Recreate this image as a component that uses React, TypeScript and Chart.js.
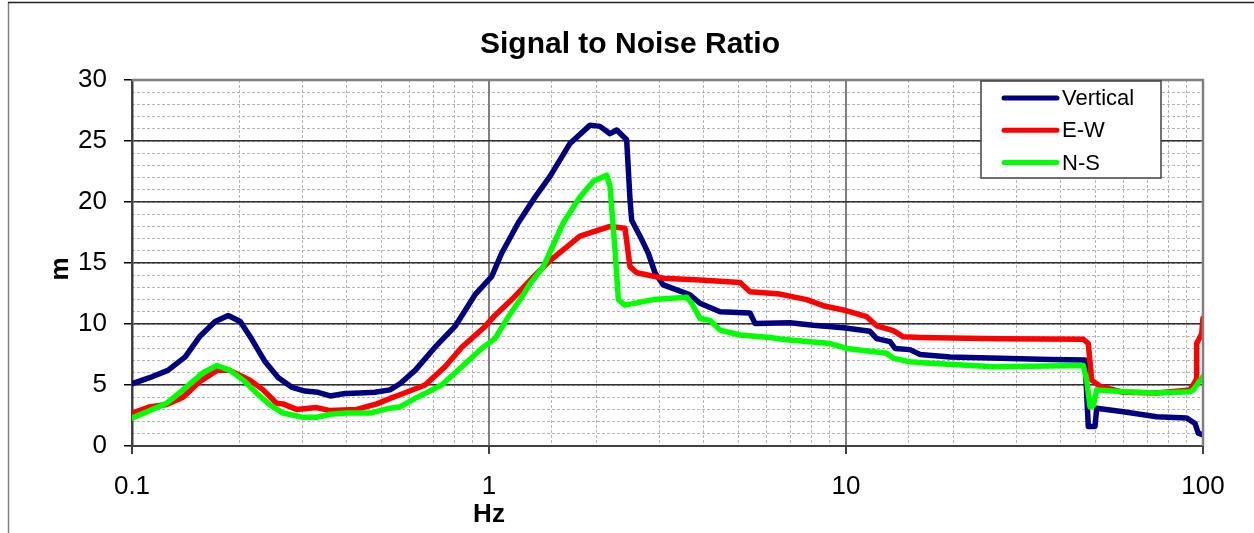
import React, { useEffect, useRef } from 'react';
import { Chart, registerables } from 'chart.js';

Chart.register(...registerables);

// ---------- data ----------
const chartTitle = 'Signal to Noise Ratio';
const xTitle = 'Hz';
const yTitle = 'm';
const seriesNames = ['Vertical', 'E-W', 'N-S'];
const seriesColors = ['#000080', '#FF0000', '#00FF00'];

const xTickValues = [0.1, 1, 10, 100];
const yMin = 0;
const yMax = 30;
const yMajorStep = 5;
const yMinorStep = 1;

const verticalHz = [0.1, 0.112, 0.126, 0.141, 0.155, 0.171, 0.186, 0.201, 0.217, 0.236, 0.257, 0.281, 0.305, 0.332, 0.359, 0.395, 0.435, 0.479, 0.528, 0.563, 0.621, 0.706, 0.803, 0.914, 1.018, 1.085, 1.208, 1.346, 1.482, 1.686, 1.919, 2.046, 2.182, 2.279, 2.43, 2.483, 2.51, 2.649, 2.794, 2.917, 3.077, 3.356, 3.656, 3.899, 4.438, 5.384, 5.561, 6.969, 8.097, 9.826, 11.67, 12.19, 13.28, 13.72, 15.11, 16.12, 19.56, 27.01, 37.27, 46.72, 47.72, 49.83, 50.38, 59.81, 74.19, 90.03, 94.97, 96.99, 100];
const verticalSnr = [5.1, 5.6, 6.2, 7.3, 9.0, 10.2, 10.7, 10.2, 8.7, 6.9, 5.6, 4.8, 4.5, 4.4, 4.1, 4.3, 4.35, 4.4, 4.6, 5.1, 6.2, 8.1, 9.8, 12.4, 13.9, 15.8, 18.3, 20.4, 22.1, 24.8, 26.3, 26.2, 25.6, 25.9, 25.1, 20.2, 18.5, 17.2, 15.8, 14.2, 13.2, 12.8, 12.4, 11.7, 11.0, 10.9, 10.05, 10.1, 9.9, 9.7, 9.4, 8.8, 8.55, 8.0, 7.9, 7.5, 7.3, 7.2, 7.1, 7.05, 1.6, 1.6, 3.1, 2.8, 2.4, 2.3, 1.85, 1.05, 0.9];

const ewHz = [0.1, 0.112, 0.125, 0.139, 0.155, 0.173, 0.188, 0.214, 0.233, 0.254, 0.265, 0.289, 0.329, 0.359, 0.426, 0.485, 0.528, 0.563, 0.662, 0.753, 0.839, 0.975, 1.039, 1.158, 1.346, 1.482, 1.798, 2.182, 2.404, 2.483, 2.593, 3.077, 3.899, 5.048, 5.384, 6.533, 7.762, 8.638, 9.826, 11.43, 12.19, 13.57, 14.47, 16.12, 27.01, 46.2, 47.72, 48.77, 51.46, 59.81, 74.19, 91.96, 95.59, 96.0, 99.2, 100];
const ewSnr = [2.7, 3.2, 3.4, 4.0, 5.3, 6.2, 6.2, 5.4, 4.6, 3.5, 3.45, 3.0, 3.15, 2.9, 3.0, 3.45, 3.9, 4.2, 5.0, 6.5, 8.1, 9.8, 10.7, 12.0, 14.0, 15.2, 17.2, 18.0, 17.85, 14.7, 14.2, 13.75, 13.6, 13.4, 12.65, 12.45, 12.0, 11.5, 11.15, 10.6, 9.85, 9.45, 8.95, 8.9, 8.8, 8.75, 8.4, 5.4, 4.9, 4.4, 4.35, 4.6, 5.4, 8.4, 9.2, 10.5];

const nsHz = [0.1, 0.11, 0.125, 0.139, 0.158, 0.173, 0.188, 0.205, 0.224, 0.244, 0.265, 0.302, 0.329, 0.359, 0.399, 0.464, 0.528, 0.563, 0.621, 0.737, 0.839, 0.954, 1.039, 1.133, 1.235, 1.303, 1.42, 1.615, 1.798, 1.96, 2.136, 2.182, 2.254, 2.303, 2.404, 2.885, 3.579, 3.697, 3.899, 4.159, 4.438, 5.048, 6.124, 6.823, 9.021, 10.05, 13.0, 13.57, 15.11, 16.83, 25.86, 46.2, 47.23, 48.25, 49.29, 50.38, 59.81, 74.19, 91.96, 93.93, 100];
const nsSnr = [2.3, 2.8, 3.5, 4.6, 6.0, 6.6, 6.2, 5.4, 4.3, 3.35, 2.7, 2.35, 2.35, 2.6, 2.7, 2.7, 3.1, 3.2, 3.9, 5.0, 6.5, 8.0, 8.8, 10.6, 12.2, 13.3, 14.7, 18.3, 20.4, 21.7, 22.2, 21.3, 16.1, 12.0, 11.55, 12.0, 12.2, 11.7, 10.45, 10.3, 9.5, 9.1, 8.9, 8.7, 8.4, 8.0, 7.6, 7.2, 6.9, 6.8, 6.5, 6.6, 5.4, 3.2, 3.3, 4.6, 4.45, 4.35, 4.45, 4.6, 5.7];

// ---------- helpers ----------
const FONT = '"Liberation Sans", Arial, sans-serif';
const toPoints = (xs: number[], ys: number[]) => xs.map((x, i) => ({ x, y: ys[i] }));

const decorPlugin = {
  id: 'decor',
  beforeDraw(chart: any) {
    const ctx = chart.ctx;
    ctx.save();
    ctx.fillStyle = '#ffffff';
    ctx.fillRect(0, 0, chart.width, chart.height);
    ctx.lineWidth = 1.5;
    ctx.strokeStyle = '#808080';
    ctx.beginPath();
    ctx.moveTo(8.5, chart.height);
    ctx.lineTo(8.5, 2.5);
    ctx.stroke();
    ctx.strokeStyle = '#202020';
    ctx.beginPath();
    ctx.moveTo(8, 2.5);
    ctx.lineTo(chart.width, 2.5);
    ctx.stroke();
    ctx.restore();
  },
  afterDraw(chart: any) {
    const ctx = chart.ctx;
    const a = chart.chartArea;
    ctx.save();
    // plot frame top / right
    ctx.strokeStyle = '#808080';
    ctx.lineWidth = 2.5;
    ctx.beginPath();
    ctx.moveTo(a.left, a.top);
    ctx.lineTo(a.right, a.top);
    ctx.lineTo(a.right, a.bottom);
    ctx.stroke();

    // titles
    ctx.fillStyle = '#000';
    ctx.textAlign = 'center';
    ctx.textBaseline = 'middle';
    ctx.font = `bold 30px ${FONT}`;
    ctx.fillText(chartTitle, 630, 45);
    ctx.font = `bold 26px ${FONT}`;
    ctx.fillText(xTitle, 489, 515);
    ctx.save();
    ctx.translate(61, (a.top + a.bottom) / 2 + 6);
    ctx.rotate(-Math.PI / 2);
    ctx.fillText(yTitle, 0, 0);
    ctx.restore();

    // legend
    const bx = a.right - 222;
    const by = a.top + 1;
    const bw = 180;
    const bh = 97;
    ctx.fillStyle = '#fff';
    ctx.fillRect(bx, by, bw, bh);
    ctx.strokeStyle = '#404040';
    ctx.lineWidth = 1.5;
    ctx.strokeRect(bx, by, bw, bh);
    ctx.font = `22px ${FONT}`;
    ctx.textAlign = 'left';
    ctx.textBaseline = 'middle';
    seriesNames.forEach((name, i) => {
      const cy = by + 17 + i * 32.3;
      ctx.strokeStyle = seriesColors[i];
      ctx.lineWidth = 5;
      ctx.lineCap = 'round';
      ctx.beginPath();
      ctx.moveTo(bx + 23, cy);
      ctx.lineTo(bx + 76, cy);
      ctx.stroke();
      ctx.fillStyle = '#000';
      ctx.fillText(name, bx + 81, cy + 1);
    });
    ctx.restore();
  },
};

const seriesData = [
  toPoints(verticalHz, verticalSnr),
  toPoints(ewHz, ewSnr),
  toPoints(nsHz, nsSnr),
];

export default function App() {
  const ref = useRef<HTMLCanvasElement>(null);

  useEffect(() => {
    const canvas = ref.current;
    if (!canvas) return;
    const chart = new Chart(canvas, {
      type: 'line',
      data: {
        datasets: seriesNames.map((name, i) => ({
          label: name,
          data: seriesData[i],
          borderColor: seriesColors[i],
          backgroundColor: seriesColors[i],
          borderWidth: 5.5,
          pointRadius: 0,
          pointHoverRadius: 0,
          tension: 0,
          fill: false,
          borderJoinStyle: 'round',
          borderCapStyle: 'round',
          order: 2 - i,
          xAxisID: 'x',
          yAxisID: 'y',
        })),
      },
      options: {
        animation: false,
        responsive: false,
        devicePixelRatio: 1,
        layout: { padding: { top: 80, right: 51, bottom: 0, left: 0 } },
        plugins: {
          legend: { display: false },
          title: { display: false },
          tooltip: { enabled: false },
        },
        scales: {
          x2: {
            type: 'logarithmic',
            axis: 'x',
            position: 'bottom',
            min: xTickValues[0],
            max: xTickValues[xTickValues.length - 1],
            z: -1,
            ticks: { display: false },
            grid: { color: '#b4b4b4', lineWidth: 1, drawTicks: false },
            border: { display: false, dash: [3, 2] },
            afterFit(s: any) { s.height = 0; },
          },
          y2: {
            type: 'linear',
            axis: 'y',
            position: 'left',
            min: yMin,
            max: yMax,
            z: -1,
            ticks: { display: false, stepSize: yMinorStep },
            grid: { color: '#b4b4b4', lineWidth: 1, drawTicks: false },
            border: { display: false, dash: [3, 2] },
            afterFit(s: any) { s.width = 0; },
          },
          x: {
            type: 'logarithmic',
            position: 'bottom',
            min: xTickValues[0],
            max: xTickValues[xTickValues.length - 1],
            afterBuildTicks(s: any) {
              s.ticks = xTickValues.map((v) => ({ value: v }));
            },
            ticks: {
              autoSkip: false,
              maxRotation: 0,
              color: '#000',
              padding: 17,
              font: { family: FONT, size: 26 },
              callback: (v: any) => String(v),
            },
            grid: { color: '#808080', lineWidth: 2, tickColor: '#000', tickLength: 8, tickWidth: 1.5 },
            border: { display: true, color: '#404040', width: 2 },
            afterFit(s: any) { s.height = 87; },
          },
          y: {
            type: 'linear',
            position: 'left',
            min: yMin,
            max: yMax,
            ticks: {
              stepSize: yMajorStep,
              color: '#000',
              padding: 17,
              font: { family: FONT, size: 26 },
            },
            grid: { color: '#303030', lineWidth: 1.5, tickColor: '#000', tickLength: 8, tickWidth: 1.5 },
            border: { display: true, color: '#404040', width: 2.5 },
            afterFit(s: any) { s.width = 132; },
          },
        },
      } as any,
      plugins: [decorPlugin],
    } as any);
    return () => chart.destroy();
  }, []);

  return (
    <div style={{ position: 'absolute', left: 0, top: 0, width: 1254, height: 533, overflow: 'hidden' }}>
      <canvas ref={ref} width={1254} height={533} style={{ display: 'block' }} />
    </div>
  );
}
